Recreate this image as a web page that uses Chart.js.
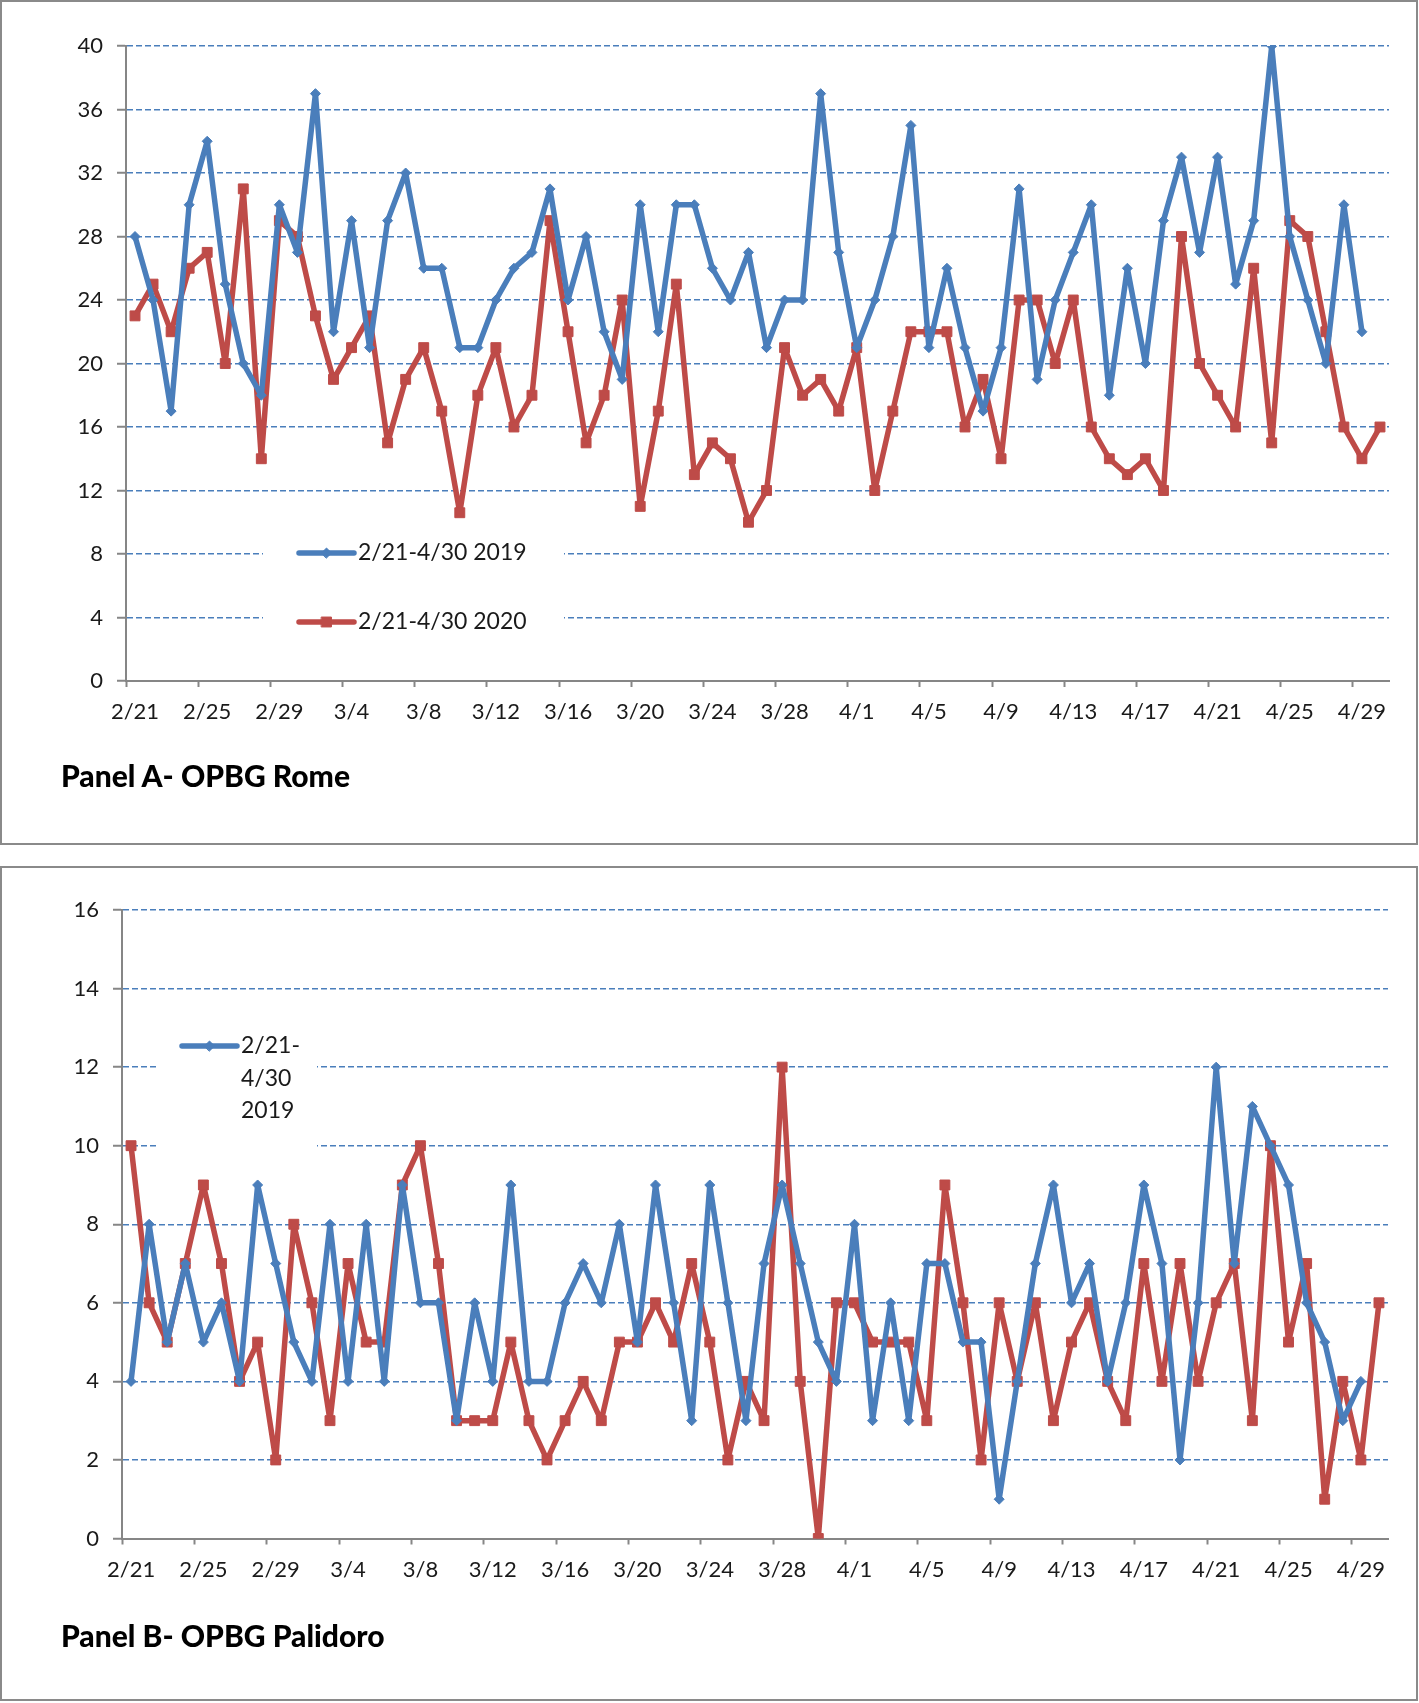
<!DOCTYPE html>
<html>
<head>
<meta charset="utf-8">
<script src="https://cdn.jsdelivr.net/npm/chart.js@4.4.0/dist/chart.umd.min.js"></script>
<style>
  body { margin: 0; background: #fff; width: 1419px; height: 1703px; position: relative; font-family: Lato, 'Open Sans', sans-serif; }
  .box { position: absolute; left: 0; width: 1418px; border: 2px solid #8a8a8a; box-sizing: border-box; }
  .wrap { position: absolute; left: 0; width: 1419px; }
  .title { position: absolute; left: 61px; font-weight: 900; font-size: 30px; line-height: 30px; color: #000; white-space: nowrap; }
</style>
</head>
<body>
<div class="box" style="top:0;height:845px"></div>
<div class="box" style="top:866px;height:835px"></div>
<div class="wrap" style="top:0;height:845px"><canvas id="rome" width="1419" height="845"></canvas></div>
<div class="wrap" style="top:866px;height:835px"><canvas id="palidoro" width="1419" height="835"></canvas></div>
<div class="title" style="top:760px">Panel A- OPBG Rome</div>
<div class="title" style="top:1620px">Panel B- OPBG Palidoro</div>
<script>
// one category per day, 2/21 to 4/30 (2020 calendar)
const dateLabels = [
  '2/21', '2/22', '2/23', '2/24', '2/25', '2/26', '2/27', '2/28', '2/29',
  '3/1', '3/2', '3/3', '3/4', '3/5', '3/6', '3/7', '3/8', '3/9', '3/10', '3/11', '3/12', '3/13', '3/14', '3/15',
  '3/16', '3/17', '3/18', '3/19', '3/20', '3/21', '3/22', '3/23', '3/24', '3/25', '3/26', '3/27', '3/28', '3/29',
  '3/30', '3/31',
  '4/1', '4/2', '4/3', '4/4', '4/5', '4/6', '4/7', '4/8', '4/9', '4/10', '4/11', '4/12', '4/13', '4/14', '4/15',
  '4/16', '4/17', '4/18', '4/19', '4/20', '4/21', '4/22', '4/23', '4/24', '4/25', '4/26', '4/27', '4/28', '4/29',
  '4/30'
];
const seriesNames = ['2/21-4/30 2019', '2/21-4/30 2020'];

// Panel A - OPBG Rome (2019 has no 2/29, so one value less)
const rome2019 = [28, 24, 17, 30, 34, 25, 20, 18, 30, 27, 37, 22, 29, 21, 29, 32, 26, 26, 21, 21, 24, 26, 27, 31, 24,
  28, 22, 19, 30, 22, 30, 30, 26, 24, 27, 21, 24, 24, 37, 27, 21, 24, 28, 35, 21, 26, 21, 17, 21, 31,
  19, 24, 27, 30, 18, 26, 20, 29, 33, 27, 33, 25, 29, 40, 28, 24, 20, 30, 22];
const rome2020 = [23, 25, 22, 26, 27, 20, 31, 14, 29, 28, 23, 19, 21, 23, 15, 19, 21, 17, 10.6, 18, 21, 16, 18, 29, 22,
  15, 18, 24, 11, 17, 25, 13, 15, 14, 10, 12, 21, 18, 19, 17, 21, 12, 17, 22, 22, 22, 16, 19, 14, 24,
  24, 20, 24, 16, 14, 13, 14, 12, 28, 20, 18, 16, 26, 15, 29, 28, 22, 16, 14, 16];

// Panel B - OPBG Palidoro
const palidoro2019 = [4, 8, 5, 7, 5, 6, 4, 9, 7, 5, 4, 8, 4, 8, 4, 9, 6, 6, 3, 6, 4, 9, 4, 4, 6,
  7, 6, 8, 5, 9, 6, 3, 9, 6, 3, 7, 9, 7, 5, 4, 8, 3, 6, 3, 7, 7, 5, 5, 1, 4,
  7, 9, 6, 7, 4, 6, 9, 7, 2, 6, 12, 7, 11, 10, 9, 6, 5, 3, 4];
const palidoro2020 = [10, 6, 5, 7, 9, 7, 4, 5, 2, 8, 6, 3, 7, 5, 5, 9, 10, 7, 3, 3, 3, 5, 3, 2, 3,
  4, 3, 5, 5, 6, 5, 7, 5, 2, 4, 3, 12, 4, 0, 6, 6, 5, 5, 5, 3, 9, 6, 2, 6, 4,
  6, 3, 5, 6, 4, 3, 7, 4, 7, 4, 6, 7, 3, 10, 5, 7, 1, 4, 2, 6];

const romeTicks = { min: 0, max: 40, step: 4 };
const palidoroTicks = { min: 0, max: 16, step: 2 };

const BLUE = '#4a7ebb';
const RED = '#be4b48';
const AXIS = '#868686';
const FONT = "Lato, 'Open Sans', sans-serif";

// Excel style legend sitting inside the plot, white box over the gridlines
const insetLegend = {
  id: 'insetLegend',
  beforeDatasetsDraw(chart, args, opts) {
    if (!opts.items) return;
    const ctx = chart.ctx;
    ctx.save();
    ctx.fillStyle = '#fff';
    ctx.fillRect(opts.box[0], opts.box[1], opts.box[2], opts.box[3]);
    opts.items.forEach(item => {
      const ds = chart.data.datasets[item.dataset];
      ctx.strokeStyle = ds.borderColor;
      ctx.lineWidth = ds.borderWidth;
      ctx.lineCap = 'round';
      ctx.beginPath();
      ctx.moveTo(opts.lineX[0], item.y);
      ctx.lineTo(opts.lineX[1], item.y);
      ctx.stroke();
      ctx.fillStyle = ds.pointBackgroundColor;
      ctx.strokeStyle = ds.pointBorderColor;
      ctx.lineWidth = 1;
      Chart.helpers.drawPoint(ctx, { pointStyle: ds.pointStyle, radius: ds.pointRadius, borderWidth: 1, rotation: 0 },
        (opts.lineX[0] + opts.lineX[1]) / 2, item.y);
      ctx.fillStyle = '#1a1a1a';
      ctx.font = '23px ' + FONT;
      ctx.textBaseline = 'middle';
      ctx.textAlign = 'left';
      item.lines.forEach((t, k) => ctx.fillText(t, opts.textX, item.y + k * opts.lineGap));
    });
    ctx.restore();
  }
};

function makeDatasets(a, b) {
  return [
    {
      label: seriesNames[0], data: a,
      borderColor: BLUE, backgroundColor: BLUE, borderWidth: 5.5,
      pointStyle: 'rectRot', pointRadius: 5, pointBackgroundColor: BLUE, pointBorderColor: BLUE, pointBorderWidth: 1,
      borderJoinStyle: 'round', borderCapStyle: 'round', tension: 0
    },
    {
      label: seriesNames[1], data: b,
      borderColor: RED, backgroundColor: RED, borderWidth: 5.5,
      pointStyle: 'rect', pointRadius: 7, pointBackgroundColor: RED, pointBorderColor: RED, pointBorderWidth: 1,
      borderJoinStyle: 'round', borderCapStyle: 'round', tension: 0
    }
  ];
}

function makeChart(id, a, b, yt, pad, yWidth, legend) {
  return new Chart(document.getElementById(id), {
    type: 'line',
    data: { labels: dateLabels, datasets: makeDatasets(a, b) },
    plugins: [insetLegend],
    options: {
      responsive: false,
      animation: false,
      events: [],
      layout: { padding: pad },
      plugins: {
        legend: { display: false },
        tooltip: { enabled: false },
        insetLegend: legend
      },
      scales: {
        x: {
          type: 'category',
          offset: true,
          afterFit: s => { s.height = 60; },
          grid: {
            offset: true,
            drawOnChartArea: false,
            tickLength: 6,
            tickWidth: 2,
            tickColor: c => (c.index % 4 === 0 ? AXIS : 'rgba(0,0,0,0)')
          },
          border: { color: AXIS, width: 2 },
          ticks: {
            autoSkip: false,
            maxRotation: 0,
            padding: 12,
            color: '#1a1a1a',
            font: { family: FONT, size: 22 },
            callback: (v, i) => (i % 4 === 0 ? dateLabels[i] : '')
          }
        },
        y: {
          min: yt.min,
          max: yt.max,
          afterFit: s => { s.width = yWidth; },
          grid: {
            color: c => (c.tick && c.tick.value === 0 ? 'rgba(0,0,0,0)' : BLUE),
            lineWidth: 1.5,
            tickLength: 9,
            tickWidth: 2,
            tickColor: AXIS
          },
          border: { color: AXIS, width: 2, dash: [6, 3] },
          ticks: {
            stepSize: yt.step,
            padding: 14,
            color: '#1a1a1a',
            font: { family: FONT, size: 22 }
          }
        }
      }
    }
  });
}

makeChart('rome', rome2019, rome2020, romeTicks,
  { left: 0, top: 46, right: 30, bottom: 104 }, 126,
  {
    box: [263, 520, 301, 135], lineX: [299, 354], textX: 358, lineGap: 0,
    items: [
      { dataset: 0, y: 553, lines: [seriesNames[0]] },
      { dataset: 1, y: 622, lines: [seriesNames[1]] }
    ]
  });

makeChart('palidoro', palidoro2019, palidoro2020, palidoroTicks,
  { left: 0, top: 44, right: 31, bottom: 102.5 }, 122,
  {
    box: [159, 150, 158, 140], lineX: [182, 237], textX: 241, lineGap: 32.5,
    items: [
      { dataset: 0, y: 180, lines: ['2/21-', '4/30', '2019'] }
    ]
  });
</script>
</body>
</html>
